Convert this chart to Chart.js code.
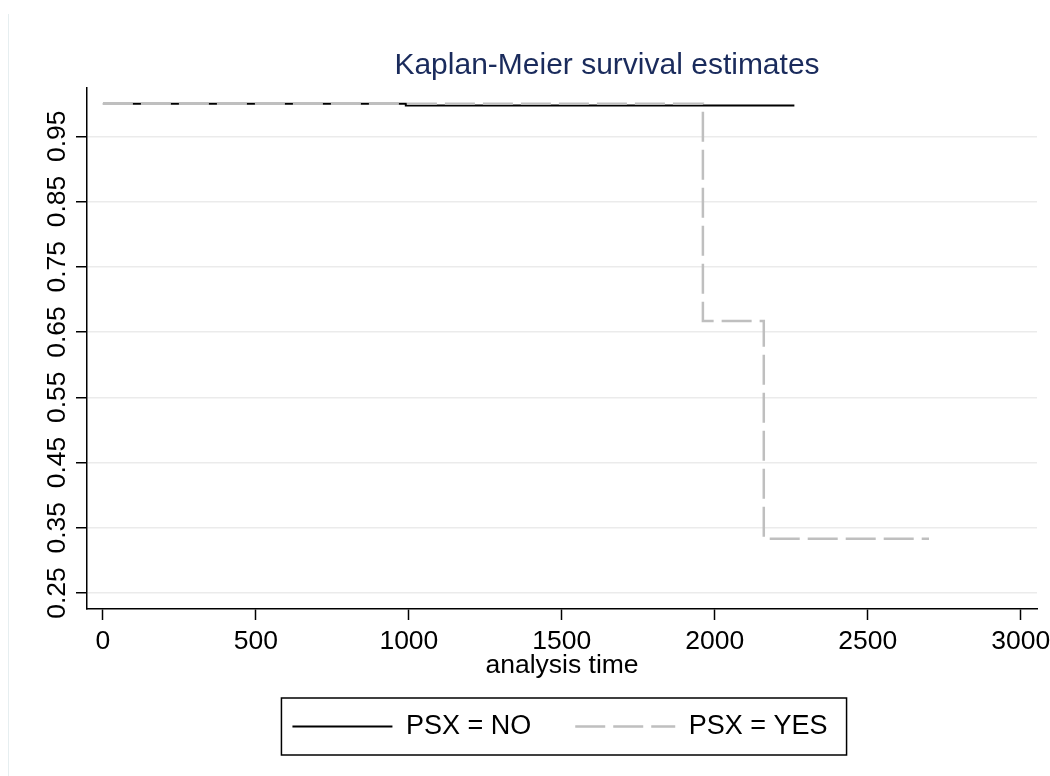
<!DOCTYPE html>
<html>
<head>
<meta charset="utf-8">
<title>Kaplan-Meier survival estimates</title>
<script src="https://cdn.jsdelivr.net/npm/chart.js@4"></script>
<style>
  html, body { margin: 0; padding: 0; background: #fff; }
  #wrap { width: 1050px; height: 776px; }
</style>
</head>
<body>
<div id="wrap"><canvas id="km" width="1050" height="776"></canvas></div>
<script>
'use strict';

// analysis time where each step starts, and the survival from there on
let noTimes = [0, 990, 2260];
let noSurvival = [1, 0.997, 0.997];
let yesTimes = [0, 1961, 2160, 2700];
let yesSurvival = [1, 0.667, 0.333, 0.333];

let seriesNames = ['PSX = NO', 'PSX = YES'];
let xTicks = [0, 500, 1000, 1500, 2000, 2500, 3000];
let yTicks = [0.25, 0.35, 0.45, 0.55, 0.65, 0.75, 0.85, 0.95];

let chartTitle = 'Kaplan-Meier survival estimates';
let fontFamily = "'Liberation Sans', Arial, Helvetica, sans-serif";

function toPoints(times, values) {
  let points = [];
  for (let i = 0; i < times.length; i++) {
    points.push({ x: times[i], y: values[i] });
  }
  return points;
}

// white page, faint left edge, title and the box round the legend
const decorations = {
  id: 'decorations',
  afterLayout(chart) {
    // legend sits a little left of where chart.js centres it
    chart.legend.left -= 2;
    chart.legend.right -= 2;
  },
  beforeDraw(chart) {
    let ctx = chart.ctx;
    ctx.save();
    ctx.fillStyle = '#fff';
    ctx.fillRect(0, 0, chart.width, chart.height);
    ctx.strokeStyle = '#e6eef0';
    ctx.lineWidth = 1;
    ctx.beginPath();
    ctx.moveTo(8.5, 14);
    ctx.lineTo(8.5, chart.height);
    ctx.stroke();
    ctx.restore();
  },
  afterDraw(chart) {
    let ctx = chart.ctx;
    ctx.save();
    ctx.fillStyle = '#1a2b5c';
    ctx.font = '30px ' + fontFamily;
    ctx.textAlign = 'center';
    ctx.textBaseline = 'middle';
    ctx.fillText(chartTitle, 607, 66);

    let boxes = chart.legend.legendHitBoxes;
    if (boxes && boxes.length) {
      let first = boxes[0];
      let last = boxes[boxes.length - 1];
      let left = first.left - 11;
      let right = last.left + last.width + 19;
      ctx.strokeStyle = '#000';
      ctx.lineWidth = 1.5;
      ctx.strokeRect(left, first.top - 15, right - left, first.height + 30);
    }
    ctx.restore();
  }
};

let chartCanvas = document.getElementById('km').getContext('2d');
const kmChart = new Chart(chartCanvas, {
  type: 'line',
  data: {
    datasets: [
      {
        label: seriesNames[0],
        data: toPoints(noTimes, noSurvival),
        stepped: 'before',
        borderColor: '#000',
        borderWidth: 2,
        borderDash: [],
        pointRadius: 0,
        fill: false,
        order: 1,
      },
      {
        label: seriesNames[1],
        data: toPoints(yesTimes, yesSurvival),
        stepped: 'before',
        borderColor: '#bfbfbf',
        borderWidth: 2.5,
        borderDash: [30, 8],
        pointRadius: 0,
        fill: false,
        order: 0,
      },
    ],
  },
  options: {
    responsive: false,
    animation: false,
    devicePixelRatio: 1,
    layout: { padding: { left: 0, right: 13, top: 88, bottom: 26 } },
    plugins: {
      title: { display: false },
      tooltip: { enabled: false },
      legend: {
        position: 'bottom',
        fullSize: false,
        labels: {
          usePointStyle: true,
          pointStyle: 'line',
          pointStyleWidth: 100,
          padding: 44,
          color: '#000',
          font: { family: fontFamily, size: 27 },
          sort: (a, b) => a.datasetIndex - b.datasetIndex,
          generateLabels: (chart) => {
            let items = Chart.defaults.plugins.legend.labels.generateLabels(chart);
            items.forEach((item) => {
              let ds = chart.data.datasets[item.datasetIndex];
              item.lineDash = ds.borderDash;
              item.lineWidth = ds.borderWidth;
              item.strokeStyle = ds.borderColor;
            });
            return items;
          },
        },
      },
    },
    scales: {
      x: {
        type: 'linear',
        min: -52,
        max: 3053,
        afterBuildTicks: (scale) => { scale.ticks = xTicks.map(v => ({ value: v })); },
        afterFit: (scale) => {
          scale.height = 60;
          scale.paddingLeft = 0;
          scale.paddingRight = 0;
        },
        grid: { drawOnChartArea: false, tickLength: 11, tickColor: '#000', tickWidth: 1.5 },
        border: { color: '#000', width: 1.5 },
        ticks: {
          color: '#000',
          font: { family: fontFamily, size: 26.5 },
          padding: 6,
          maxRotation: 0,
          autoSkip: false,
          callback: (v) => String(v),
        },
        title: {
          display: true,
          text: 'analysis time',
          color: '#000',
          font: { family: fontFamily, size: 26.5 },
          padding: { top: 0, bottom: -13 },
        },
      },
      y: {
        type: 'linear',
        min: 0.2255,
        max: 1.024,
        afterBuildTicks: (scale) => { scale.ticks = yTicks.map(v => ({ value: v })); },
        afterFit: (scale) => {
          scale.width = 87;
          scale.paddingTop = 0;
          scale.paddingBottom = 0;
        },
        grid: { color: '#ebebeb', lineWidth: 1.5, tickLength: 11, tickColor: '#000', tickWidth: 1.5 },
        border: { color: '#000', width: 1.5 },
        ticks: {
          color: '#000',
          font: { family: fontFamily, size: 26.5 },
          padding: -7,
          minRotation: 90,
          maxRotation: 90,
          crossAlign: 'center',
          autoSkip: false,
          callback: (v) => Number(v).toFixed(2),
        },
      },
    },
  },
  plugins: [decorations],
});
</script>
</body>
</html>
